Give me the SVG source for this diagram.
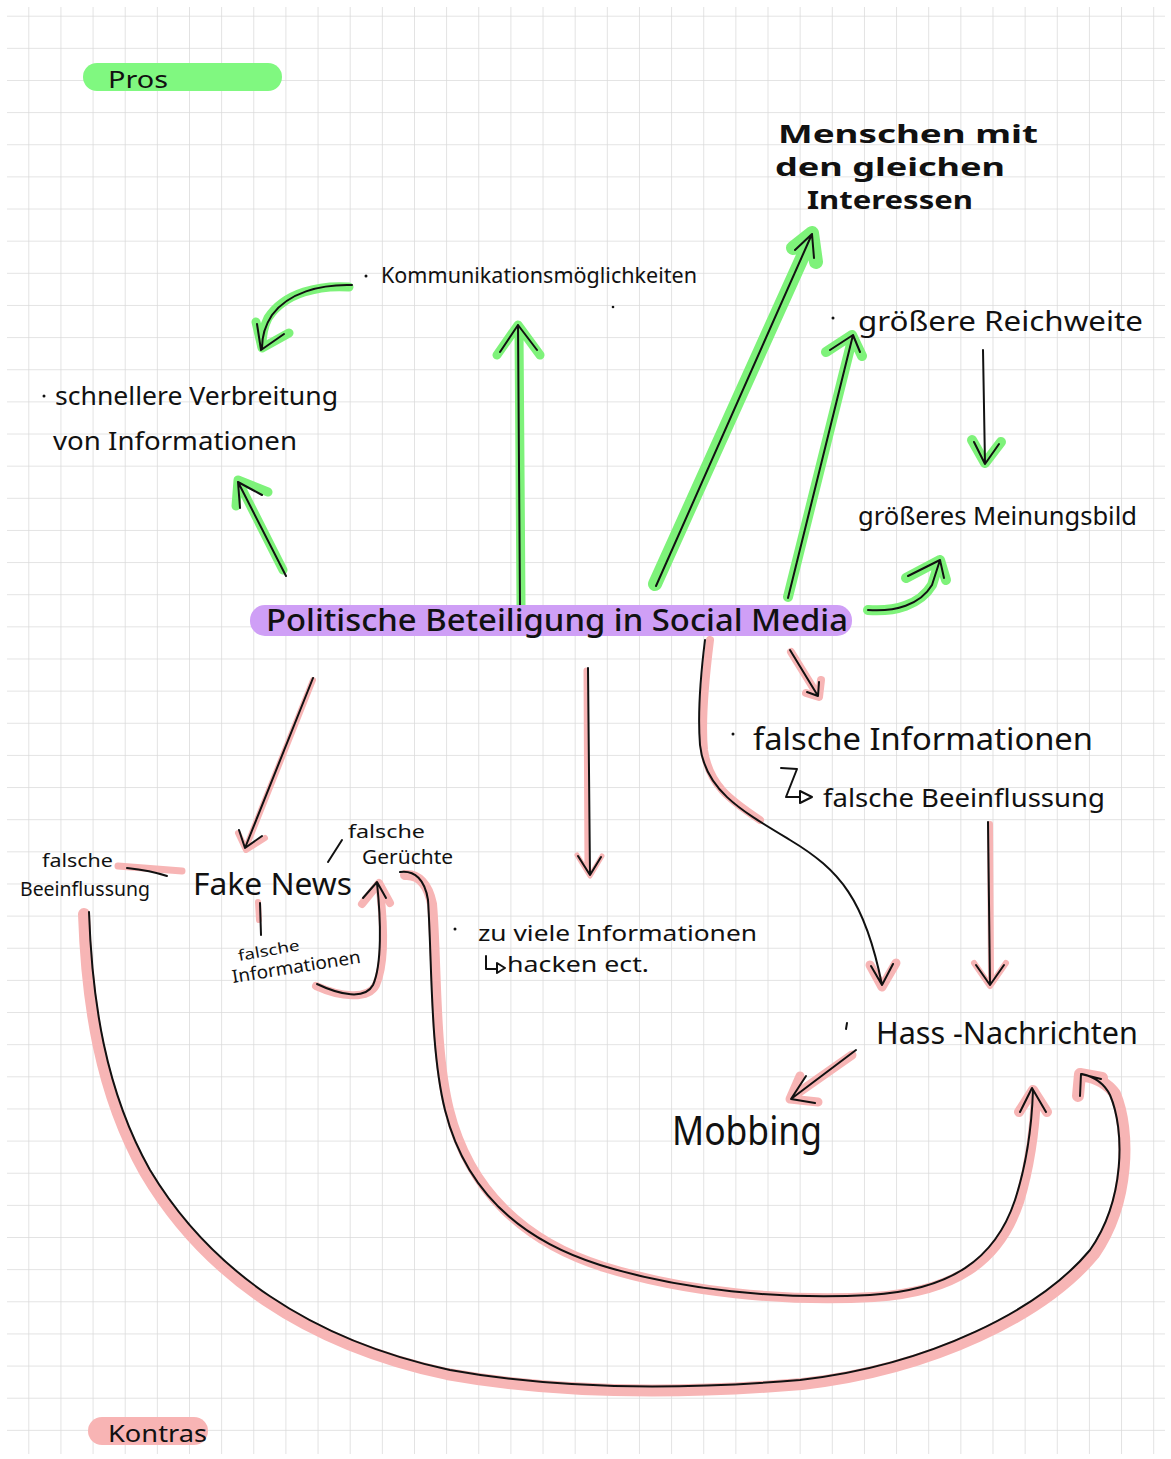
<svg xmlns="http://www.w3.org/2000/svg" width="1171" height="1459" viewBox="0 0 1171 1459">
  <defs>
    <pattern id="grid" patternUnits="userSpaceOnUse" x="28.3" y="15.7" width="32.14" height="32.14">
      <path d="M0,0 L0,32.14 M0,0 L32.14,0" fill="none" stroke="#dadada" stroke-width="1.5"/>
    </pattern>
    <style>
      .t { font-family: "Noto Sans", "Liberation Sans", sans-serif; fill: #111; }
      .ink { fill: none; stroke: #111; stroke-width: 2; stroke-linecap: round; stroke-linejoin: round; }
      .gh { fill: none; stroke: #7ef27a; stroke-linecap: round; stroke-linejoin: round; }
      .ph { fill: none; stroke: #f7b5b5; stroke-linecap: round; stroke-linejoin: round; }
    </style>
  </defs>

  <rect width="1171" height="1459" fill="#ffffff"/>
  <rect x="7" y="7" width="1158" height="1447" fill="url(#grid)"/>

  <!-- section labels -->
  <g id="pros">
    <rect x="83" y="63" width="199" height="28" rx="14" fill="#80f880"/>
    <text class="t" x="108" y="88" font-size="24" textLength="60" lengthAdjust="spacingAndGlyphs">Pros</text>
  </g>
  <g id="kontras">
    <rect x="88" y="1417" width="120" height="28" rx="14" fill="#f8b4b4"/>
    <text class="t" x="108" y="1442" font-size="24" textLength="99" lengthAdjust="spacingAndGlyphs">Kontras</text>
  </g>

  <!-- connectors: highlighter strokes under ink strokes -->
  <g id="connectors">
    <!-- Pros (green) -->
    <path class="gh" stroke-width="9" d="M349,287 C320,285 285,292 268,318 C263,328 262,338 262,346"/>
    <path class="gh" stroke-width="9" d="M256,322 L262,348 L289,333"/>
    <path class="ink" d="M352,285 C320,284 288,293 272,315 C264,327 262,338 262,348 M257,324 L261,350 L284,334"/>

    <path class="gh" stroke-width="9" d="M283,570 L240,485 M236,506 L238,480 L268,492"/>
    <path class="ink" d="M286,576 L238,482 M240,508 L238,482 L262,495"/>

    <path class="gh" stroke-width="9" d="M521,605 L519,330 M497,355 L518,325 L540,355"/>
    <path class="ink" d="M520,605 L518,325 M500,352 L518,325 L537,350"/>

    <path class="gh" stroke-width="14" d="M655,584 L812,236 M793,248 L812,233 L816,262"/>
    <path class="ink" d="M656,586 L812,234 M795,250 L812,234 L814,258"/>

    <path class="gh" stroke-width="10" d="M788,597 L852,340 M826,352 L852,335 L862,356"/>
    <path class="ink" d="M788,598 L853,335 M830,350 L853,335 L860,352"/>

    <path class="gh" stroke-width="10" d="M972,440 L985,463 L1001,442"/>
    <path class="ink" d="M983,350 L985,464 M974,442 L985,464 L999,444"/>

    <path class="gh" stroke-width="10" d="M868,610 C895,612 920,605 932,585 L940,560 M906,578 L940,560 L946,580"/>
    <path class="ink" d="M868,610 C895,612 920,605 932,585 L940,560 M908,576 L940,560 L944,578"/>

    <!-- Kontras (pink) -->
    <path class="ph" stroke-width="6" d="M313,680 L247,845 M238,833 L246,850 L265,838"/>
    <path class="ink" d="M313,678 L245,848 M239,830 L245,848 L262,836"/>

    <path class="ph" stroke-width="5" d="M586,670 L587,870 M577,855 L590,876 L602,856"/>
    <path class="ink" d="M588,668 L590,875 M578,856 L590,875 L601,857"/>

    <path class="ph" stroke-width="8" d="M791,652 L817,694 M806,693 L819,697 L821,680"/>
    <path class="ink" d="M790,650 L818,696 M807,692 L818,696 L819,682"/>

    <path class="ph" stroke-width="8" d="M710,640 C705,680 701,720 704,750 C709,785 730,800 760,820"/>
    <path class="ph" stroke-width="9" d="M870,965 L882,987 L896,963"/>
    <path class="ink" d="M705,640 C700,680 698,720 700,745 C705,790 740,810 790,840 C840,870 865,900 882,985 M871,966 L882,985 L893,964"/>

    <path class="ph" stroke-width="6" d="M990,824 L991,980 M974,963 L990,986 L1006,963"/>
    <path class="ink" d="M988,822 L990,985 M976,965 L990,985 L1004,965"/>

    <path class="ph" stroke-width="9" d="M852,1055 L795,1095 M800,1076 L790,1099 L818,1102"/>
    <path class="ink" d="M856,1050 L791,1099 M806,1076 L791,1099 L815,1103"/>

    <!-- Fake News branches -->
    <path class="ph" stroke-width="7" d="M118,866 L182,871"/>
    <path class="ink" d="M127,868 C145,870 158,873 167,876"/>
    <path class="ink" d="M328,862 L342,840"/>
    <path class="ph" stroke-width="6" d="M258,902 L259,920"/>
    <path class="ink" d="M260,903 L261,935"/>

    <path class="ph" stroke-width="8" d="M316,986 C340,997 368,1000 376,985 C385,965 384,925 380,890 M362,904 L379,883 L390,903"/>
    <path class="ink" d="M317,984 C340,995 365,1000 373,985 C382,965 381,920 377,883 M363,898 L377,882 L386,898"/>

    <!-- long curves to Hass-Nachrichten -->
    <path class="ph" stroke-width="10" d="M405,875 C418,874 428,884 432,904 C437,962 434,1050 449,1110 C469,1190 524,1242 604,1267 C684,1292 784,1302 874,1297 C954,1292 999,1262 1019,1202 C1031,1162 1035,1122 1036,1095 M1019,1112 L1033,1090 L1047,1112"/>
    <path class="ink" d="M400,872 C415,870 425,880 428,900 C432,960 430,1050 445,1110 C465,1190 520,1240 600,1265 C680,1290 780,1300 870,1295 C950,1290 995,1260 1015,1200 C1028,1160 1032,1120 1033,1090 M1020,1112 L1032,1088 L1046,1112"/>

    <path class="ph" stroke-width="12" d="M84,914 C87,1002 100,1092 145,1172 C205,1274 306,1344 447,1374 C558,1394 680,1394 802,1384 C934,1369 1044,1314 1094,1254 C1130,1202 1130,1130 1115,1094 C1108,1084 1096,1077 1084,1076 M1078,1096 L1080,1074 L1102,1078"/>
    <path class="ink" d="M89,912 C92,1000 105,1090 150,1170 C210,1270 310,1340 450,1370 C560,1390 680,1390 800,1380 C930,1365 1040,1310 1090,1250 C1125,1200 1125,1130 1110,1095 C1105,1085 1095,1077 1082,1074 M1080,1096 L1081,1074 L1101,1079"/>
  </g>

  <!-- central topic -->
  <g id="center">
    <rect x="250" y="605" width="602" height="31" rx="15" fill="#cf9ff6"/>
    <text class="t" x="266" y="631" font-size="30" font-weight="500" textLength="582" lengthAdjust="spacingAndGlyphs">Politische Beteiligung in Social Media</text>
  </g>

  <!-- Pros nodes -->
  <g id="menschen">
    <text class="t" x="778" y="143" font-size="25" font-weight="700" textLength="260" lengthAdjust="spacingAndGlyphs">Menschen  mit</text>
    <text class="t" x="775" y="176" font-size="25" font-weight="700" textLength="230" lengthAdjust="spacingAndGlyphs">den gleichen</text>
    <text class="t" x="807" y="209" font-size="25" font-weight="700" textLength="166" lengthAdjust="spacingAndGlyphs">Interessen</text>
  </g>
  <g id="kommunikation">
    <circle cx="366" cy="276" r="1.5" fill="#111"/>
    <text class="t" x="381" y="283" font-size="22" textLength="316" lengthAdjust="spacingAndGlyphs">Kommunikationsmöglichkeiten</text>
    <circle cx="613" cy="307" r="1.3" fill="#111"/>
  </g>
  <g id="verbreitung">
    <circle cx="44" cy="396" r="1.5" fill="#111"/>
    <text class="t" x="55" y="405" font-size="26" textLength="283" lengthAdjust="spacingAndGlyphs">schnellere  Verbreitung</text>
    <text class="t" x="53" y="450" font-size="26" textLength="244" lengthAdjust="spacingAndGlyphs">von  Informationen</text>
  </g>
  <g id="reichweite">
    <circle cx="833" cy="318" r="1.5" fill="#111"/>
    <text class="t" x="858" y="331" font-size="28" textLength="285" lengthAdjust="spacingAndGlyphs">größere  Reichweite</text>
  </g>
  <g id="meinungsbild">
    <text class="t" x="858" y="525" font-size="26" textLength="279" lengthAdjust="spacingAndGlyphs">größeres  Meinungsbild</text>
  </g>

  <!-- Kontras nodes -->
  <g id="falsche-informationen">
    <circle cx="733" cy="734" r="1.5" fill="#111"/>
    <text class="t" x="753" y="750" font-size="30" textLength="340" lengthAdjust="spacingAndGlyphs">falsche  Informationen</text>
    <path class="ink" d="M781,768 L797,769 L786,797 L800,797 M800,791 L812,797 L800,803 Z"/>
    <text class="t" x="823" y="807" font-size="26" textLength="282" lengthAdjust="spacingAndGlyphs">falsche  Beeinflussung</text>
  </g>
  <g id="zu-viele">
    <circle cx="455" cy="929" r="1.5" fill="#111"/>
    <text class="t" x="478" y="941" font-size="22" textLength="279" lengthAdjust="spacingAndGlyphs">zu  viele  Informationen</text>
    <path class="ink" d="M486,956 L486,969 L497,969 M497,963 L505,968 L497,973 Z"/>
    <text class="t" x="507" y="972" font-size="22" textLength="142" lengthAdjust="spacingAndGlyphs">hacken  ect.</text>
  </g>
  <g id="hass">
    <path class="ink" d="M847,1023 L846,1029"/>
    <text class="t" x="876" y="1044" font-size="30" textLength="262" lengthAdjust="spacingAndGlyphs">Hass -Nachrichten</text>
  </g>
  <g id="mobbing">
    <text class="t" x="672" y="1145" font-size="40" textLength="150" lengthAdjust="spacingAndGlyphs">Mobbing</text>
  </g>
  <g id="fake-news">
    <text class="t" x="193" y="895" font-size="30" textLength="159" lengthAdjust="spacingAndGlyphs">Fake News</text>
  </g>
  <g id="beeinflussung-links">
    <text class="t" x="42" y="867" font-size="18" textLength="71" lengthAdjust="spacingAndGlyphs">falsche</text>
    <text class="t" x="20" y="896" font-size="19" textLength="130" lengthAdjust="spacingAndGlyphs">Beeinflussung</text>
  </g>
  <g id="geruechte">
    <text class="t" x="348" y="838" font-size="18" textLength="77" lengthAdjust="spacingAndGlyphs">falsche</text>
    <text class="t" x="362" y="864" font-size="19" textLength="91" lengthAdjust="spacingAndGlyphs">Gerüchte</text>
  </g>
  <g id="informationen-unten">
    <text class="t" x="239" y="961" font-size="15" textLength="62" lengthAdjust="spacingAndGlyphs" transform="rotate(-10 239 961)">falsche</text>
    <text class="t" x="233" y="983" font-size="18" textLength="130" lengthAdjust="spacingAndGlyphs" transform="rotate(-9 233 983)">Informationen</text>
  </g>
</svg>
